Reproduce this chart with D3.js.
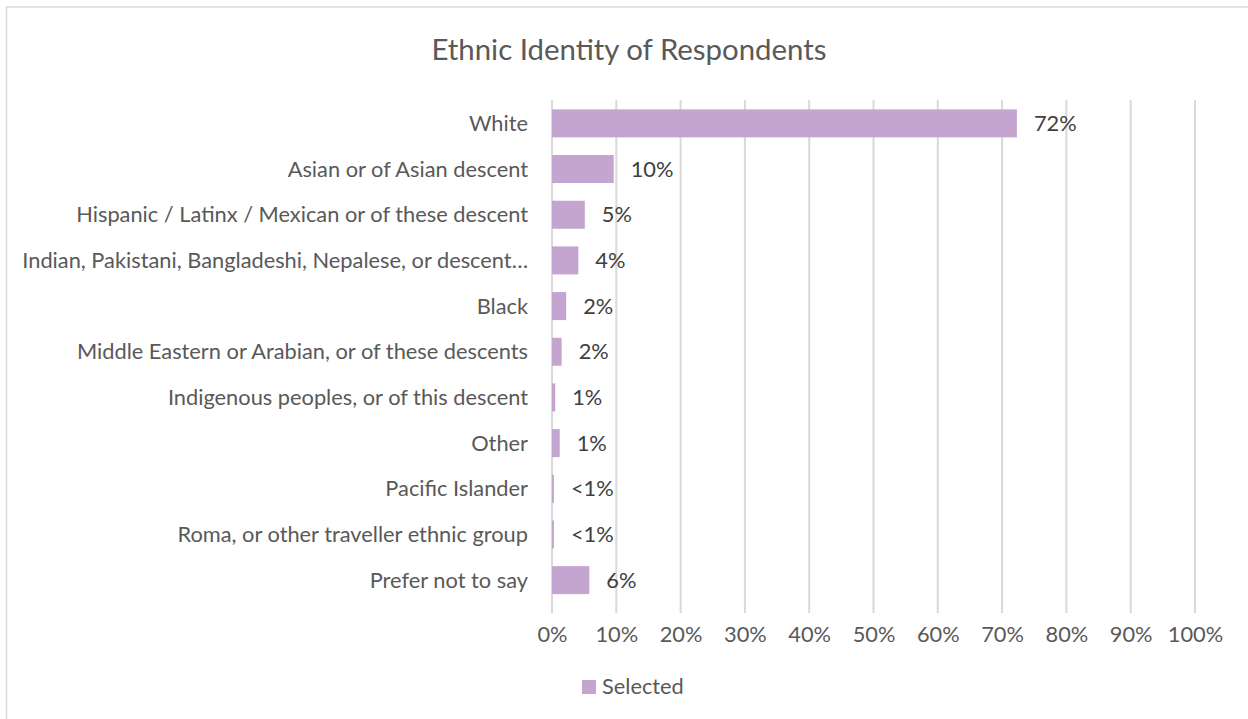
<!DOCTYPE html>
<html>
<head>
<meta charset="utf-8">
<script src="https://cdn.jsdelivr.net/npm/d3@7"></script>
<style>
  html, body { margin: 0; padding: 0; background: #ffffff; }
  svg { display: block; }
  text { font-family: Lato, "Open Sans", sans-serif; }
</style>
</head>
<body>
<svg id="chart" width="1248" height="719"></svg>
<script>
// Share of respondents selecting each ethnic identity (%)
const categories = [
  "White",
  "Asian or of Asian descent",
  "Hispanic / Latinx / Mexican or of these descent",
  "Indian, Pakistani, Bangladeshi, Nepalese, or descent…",
  "Black",
  "Middle Eastern or Arabian, or of these descents",
  "Indigenous peoples, or of this descent",
  "Other",
  "Pacific Islander",
  "Roma, or other traveller ethnic group",
  "Prefer not to say"
];
const values = [72.3, 9.6, 5.1, 4.1, 2.2, 1.5, 0.5, 1.2, 0.3, 0.3, 5.8];
const xTicks = [0, 10, 20, 30, 40, 50, 60, 70, 80, 90, 100];
const seriesName = "Selected";
const chartTitle = "Ethnic Identity of Respondents";

const W = 1248, H = 719;
const textColor = "#595959";
const gridColor = "#d9d9d9";
const barColor = "#c3a5cf";
const labelSize = "21.8px";

const svg = d3.select("#chart");

// chart area frame
svg.append("rect")
  .attr("x", 6.5).attr("y", 7)
  .attr("width", W + 20).attr("height", H + 20)
  .attr("fill", "#ffffff")
  .attr("stroke", gridColor).attr("stroke-width", 1.5);

const x = d3.scaleLinear().domain([0, 100]).range([552, 1195]);
const y = d3.scaleBand().domain(categories).range([100.7, 602.8])
  .paddingInner(0.387).paddingOuter(0.19);

const gridTop = 100, gridBottom = 613;

// vertical gridlines
svg.append("g").selectAll("line")
  .data(xTicks)
  .join("line")
  .attr("x1", d => x(d)).attr("x2", d => x(d))
  .attr("y1", gridTop).attr("y2", gridBottom)
  .attr("stroke", gridColor).attr("stroke-width", 2);

// x tick labels
const xAxis = d3.axisBottom(x).tickValues(xTicks).tickFormat(d => d + "%").tickSize(0).tickPadding(0);
const gx = svg.append("g").attr("transform", "translate(0,642)").call(xAxis);
gx.select(".domain").remove();
gx.selectAll("text")
  .attr("dy", 0).attr("y", 0)
  .attr("fill", textColor)
  .style("font-size", labelSize)
  .style("font-family", "Lato, 'Open Sans', sans-serif");

// bars
svg.append("g").selectAll("rect")
  .data(values)
  .join("rect")
  .attr("x", x(0))
  .attr("y", (d, i) => y(categories[i]))
  .attr("width", d => x(d) - x(0))
  .attr("height", y.bandwidth())
  .attr("fill", barColor);

// category labels
svg.append("g").selectAll("text")
  .data(categories)
  .join("text")
  .attr("x", 528)
  .attr("y", d => y(d) + y.bandwidth() / 2)
  .attr("dy", "0.35em")
  .attr("text-anchor", "end")
  .attr("fill", textColor)
  .style("font-size", labelSize)
  .text(d => d);

// value labels
const fmt = v => v < 0.5 ? "<1%" : Math.round(v) + "%";
svg.append("g").selectAll("text")
  .data(values)
  .join("text")
  .attr("x", d => x(d) + 17)
  .attr("y", (d, i) => y(categories[i]) + y.bandwidth() / 2)
  .attr("dy", "0.35em")
  .attr("fill", "#404040")
  .style("font-size", labelSize)
  .text(fmt);

// title
svg.append("text")
  .attr("x", 629).attr("y", 60)
  .attr("text-anchor", "middle")
  .attr("fill", textColor)
  .style("font-size", "29.4px")
  .text(chartTitle);

// legend
const lg = svg.append("g");
lg.append("rect")
  .attr("x", 582).attr("y", 680)
  .attr("width", 14).attr("height", 14)
  .attr("fill", barColor);
lg.append("text")
  .attr("x", 602).attr("y", 694)
  .attr("fill", textColor)
  .style("font-size", labelSize)
  .text(seriesName);
</script>
</body>
</html>
